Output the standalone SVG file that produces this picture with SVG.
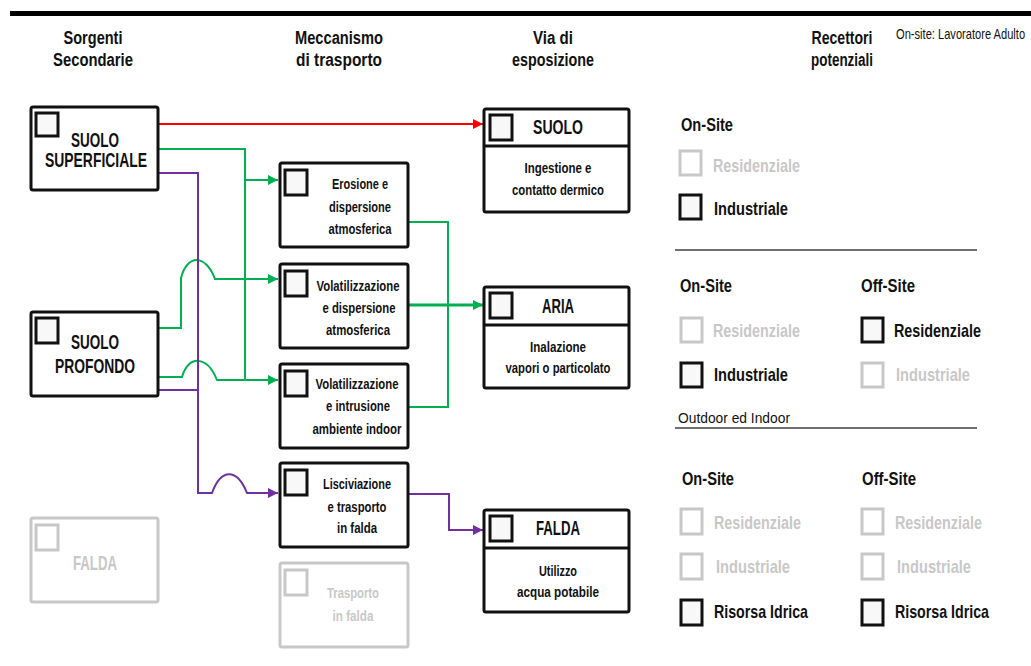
<svg xmlns="http://www.w3.org/2000/svg" width="1031" height="666" viewBox="0 0 1031 666">
<style>
text{font-family:"Liberation Sans",Arial,sans-serif;fill:#111}
.hdr{font-weight:bold;font-size:18px;text-anchor:middle}
.big{font-weight:bold;font-size:20px;text-anchor:middle}
.mech{font-weight:bold;font-size:15px;text-anchor:middle}
.expt{font-weight:bold;font-size:15px;text-anchor:middle}
.rh{font-weight:bold;font-size:18px}
.rt{font-weight:bold;font-size:19px}
.g{fill:#c8c8c8}
.box{fill:#fff;stroke:#111;stroke-width:3}
.gbox{fill:#fff;stroke:#c8c8c8;stroke-width:3}
.cb{fill:#f8f8f8;stroke:#111;stroke-width:3}
.gcb{fill:#fff;stroke:#c8c8c8;stroke-width:3}
.sep{stroke:#404040;stroke-width:1.5}
.red{fill:none;stroke:#ff0000;stroke-width:2}
.grn{fill:none;stroke:#00b050;stroke-width:2}
.grnT{fill:none;stroke:#00b050;stroke-width:3}
.pur{fill:none;stroke:#7030a0;stroke-width:2}
</style>
<defs>
<marker id="aR" markerUnits="userSpaceOnUse" markerWidth="12" markerHeight="12" refX="10" refY="5" orient="auto"><path d="M0,0 L10,5 L0,10 z" fill="#ff0000"/></marker>
<marker id="aG" markerUnits="userSpaceOnUse" markerWidth="12" markerHeight="12" refX="10" refY="5" orient="auto"><path d="M0,0 L10,5 L0,10 z" fill="#00b050"/></marker>
<marker id="aP" markerUnits="userSpaceOnUse" markerWidth="12" markerHeight="12" refX="10" refY="5" orient="auto"><path d="M0,0 L10,5 L0,10 z" fill="#7030a0"/></marker>
</defs>
<rect x="0" y="0" width="1031" height="666" fill="#fff"/>
<rect x="10" y="11" width="1021" height="5" fill="#000"/>

<g id="headers">
<text class="hdr" x="93" y="44" textLength="59" lengthAdjust="spacingAndGlyphs">Sorgenti</text>
<text class="hdr" x="93" y="66" textLength="80" lengthAdjust="spacingAndGlyphs">Secondarie</text>
<text class="hdr" x="339" y="44" textLength="88" lengthAdjust="spacingAndGlyphs">Meccanismo</text>
<text class="hdr" x="339" y="66" textLength="86" lengthAdjust="spacingAndGlyphs">di trasporto</text>
<text class="hdr" x="553" y="44" textLength="40" lengthAdjust="spacingAndGlyphs">Via di</text>
<text class="hdr" x="553" y="66" textLength="82" lengthAdjust="spacingAndGlyphs">esposizione</text>
<text class="hdr" x="842" y="44" textLength="61" lengthAdjust="spacingAndGlyphs">Recettori</text>
<text class="hdr" x="842" y="66" textLength="62" lengthAdjust="spacingAndGlyphs">potenziali</text>
<text transform="translate(896 39) scale(0.795 1)" x="0" y="0" style="font-size:14px">On-site: Lavoratore Adulto</text>
</g>

<g id="connectors">
<path class="red" d="M159,124 H483" marker-end="url(#aR)"/>
<path class="grn" d="M159,149 H245 V381"/>
<path class="grn" d="M245,180 H278" marker-end="url(#aG)"/>
<path class="grn" d="M159,328 H181 V278 C187,254 206,254 215,279 H278" marker-end="url(#aG)"/>
<path class="grn" d="M159,377 H182 C188,355 207,355 217,380 H278" marker-end="url(#aG)"/>
<path class="pur" d="M159,173 H198 V493 H212 C221,468 237,468 247,493 H278" marker-end="url(#aP)"/>
<path class="pur" d="M159,390 H198"/>
<path class="grn" d="M408,222 H448 V407 H408"/>
<path class="grnT" d="M408,305 H483" marker-end="url(#aG)"/>
<path class="pur" d="M408,494 H449 V530 H483" marker-end="url(#aP)"/>
</g>

<g id="src-suolo-superficiale">
<rect class="box" x="31" y="107" width="127" height="83" rx="2"/>
<rect class="cb" x="36" y="113" width="22" height="23"/>
<text class="big" x="95" y="147" textLength="48" lengthAdjust="spacingAndGlyphs">SUOLO</text>
<text class="big" x="96" y="167" textLength="102" lengthAdjust="spacingAndGlyphs">SUPERFICIALE</text>
</g>
<g id="src-suolo-profondo">
<rect class="box" x="31" y="312" width="127" height="84" rx="2"/>
<rect class="cb" x="36" y="318" width="22" height="25"/>
<text class="big" x="95" y="349" textLength="48" lengthAdjust="spacingAndGlyphs">SUOLO</text>
<text class="big" x="95" y="373" textLength="80" lengthAdjust="spacingAndGlyphs">PROFONDO</text>
</g>
<g id="src-falda">
<rect class="gbox" x="31" y="518" width="127" height="84" rx="2"/>
<rect class="gcb" x="36" y="525" width="22" height="25"/>
<text class="big g" x="95" y="570" textLength="44" lengthAdjust="spacingAndGlyphs">FALDA</text>
</g>

<g id="mec-erosione">
<rect class="box" x="280" y="163" width="128" height="84" rx="2"/>
<rect class="cb" x="285" y="170" width="22" height="25"/>
<text class="mech" x="360" y="189" textLength="56" lengthAdjust="spacingAndGlyphs">Erosione e</text>
<text class="mech" x="360" y="212" textLength="62" lengthAdjust="spacingAndGlyphs">dispersione</text>
<text class="mech" x="360" y="234" textLength="63" lengthAdjust="spacingAndGlyphs">atmosferica</text>
</g>
<g id="mec-volat-disp">
<rect class="box" x="280" y="264" width="128" height="84" rx="2"/>
<rect class="cb" x="285" y="271" width="22" height="25"/>
<text class="mech" x="358" y="291" textLength="83" lengthAdjust="spacingAndGlyphs">Volatilizzazione</text>
<text class="mech" x="359" y="313" textLength="73" lengthAdjust="spacingAndGlyphs">e dispersione</text>
<text class="mech" x="358" y="335" textLength="64" lengthAdjust="spacingAndGlyphs">atmosferica</text>
</g>
<g id="mec-volat-indoor">
<rect class="box" x="280" y="364" width="128" height="84" rx="2"/>
<rect class="cb" x="285" y="371" width="22" height="25"/>
<text class="mech" x="357" y="389" textLength="83" lengthAdjust="spacingAndGlyphs">Volatilizzazione</text>
<text class="mech" x="358" y="411" textLength="64" lengthAdjust="spacingAndGlyphs">e intrusione</text>
<text class="mech" x="357" y="434" textLength="89" lengthAdjust="spacingAndGlyphs">ambiente indoor</text>
</g>
<g id="mec-lisciviazione">
<rect class="box" x="280" y="463" width="128" height="84" rx="2"/>
<rect class="cb" x="285" y="470" width="22" height="25"/>
<text class="mech" x="357" y="489" textLength="68" lengthAdjust="spacingAndGlyphs">Lisciviazione</text>
<text class="mech" x="357" y="512" textLength="59" lengthAdjust="spacingAndGlyphs">e trasporto</text>
<text class="mech" x="357" y="533" textLength="40" lengthAdjust="spacingAndGlyphs">in falda</text>
</g>
<g id="mec-trasporto-falda">
<rect class="gbox" x="280" y="563" width="128" height="84" rx="2"/>
<rect class="gcb" x="285" y="570" width="22" height="25"/>
<text class="mech g" x="353" y="598" textLength="52" lengthAdjust="spacingAndGlyphs">Trasporto</text>
<text class="mech g" x="353" y="621" textLength="41" lengthAdjust="spacingAndGlyphs">in falda</text>
</g>

<g id="exp-suolo">
<rect class="box" x="484" y="109" width="145" height="103" rx="2"/>
<line x1="484" y1="146" x2="629" y2="146" stroke="#111" stroke-width="3"/>
<rect class="cb" x="490" y="115" width="22" height="25"/>
<text class="big" x="558" y="134" textLength="50" lengthAdjust="spacingAndGlyphs">SUOLO</text>
<text class="expt" x="558" y="173" textLength="67" lengthAdjust="spacingAndGlyphs">Ingestione e</text>
<text class="expt" x="558" y="195" textLength="92" lengthAdjust="spacingAndGlyphs">contatto dermico</text>
</g>
<g id="exp-aria">
<rect class="box" x="484" y="287" width="145" height="101" rx="2"/>
<line x1="484" y1="325" x2="629" y2="325" stroke="#111" stroke-width="3"/>
<rect class="cb" x="490" y="293" width="22" height="25"/>
<text class="big" x="558" y="313" textLength="32" lengthAdjust="spacingAndGlyphs">ARIA</text>
<text class="expt" x="558" y="352" textLength="56" lengthAdjust="spacingAndGlyphs">Inalazione</text>
<text class="expt" x="558" y="373" textLength="105" lengthAdjust="spacingAndGlyphs">vapori o particolato</text>
</g>
<g id="exp-falda">
<rect class="box" x="484" y="510" width="145" height="102" rx="2"/>
<line x1="484" y1="548" x2="629" y2="548" stroke="#111" stroke-width="3"/>
<rect class="cb" x="490" y="516" width="22" height="25"/>
<text class="big" x="558" y="535" textLength="44" lengthAdjust="spacingAndGlyphs">FALDA</text>
<text class="expt" x="558" y="576" textLength="38" lengthAdjust="spacingAndGlyphs">Utilizzo</text>
<text class="expt" x="558" y="597" textLength="82" lengthAdjust="spacingAndGlyphs">acqua potabile</text>
</g>

<g id="recettori-1">
<text class="rh" x="681" y="131" textLength="52" lengthAdjust="spacingAndGlyphs">On-Site</text>
<rect class="gcb" x="680" y="151" width="21" height="24"/>
<text class="rt g" x="713" y="172" textLength="87" lengthAdjust="spacingAndGlyphs">Residenziale</text>
<rect class="cb" x="680" y="195" width="21" height="24"/>
<text class="rt" x="714" y="215" textLength="74" lengthAdjust="spacingAndGlyphs">Industriale</text>
<line class="sep" x1="675" y1="250" x2="977" y2="250"/>
</g>
<g id="recettori-2">
<text class="rh" x="680" y="292" textLength="52" lengthAdjust="spacingAndGlyphs">On-Site</text>
<rect class="gcb" x="681" y="318" width="21" height="24"/>
<text class="rt g" x="713" y="337" textLength="87" lengthAdjust="spacingAndGlyphs">Residenziale</text>
<rect class="cb" x="681" y="363" width="21" height="24"/>
<text class="rt" x="714" y="381" textLength="74" lengthAdjust="spacingAndGlyphs">Industriale</text>
<text class="rh" x="861" y="292" textLength="54" lengthAdjust="spacingAndGlyphs">Off-Site</text>
<rect class="cb" x="862" y="318" width="21" height="24"/>
<text class="rt" x="894" y="337" textLength="87" lengthAdjust="spacingAndGlyphs">Residenziale</text>
<rect class="gcb" x="862" y="363" width="21" height="24"/>
<text class="rt g" x="896" y="381" textLength="74" lengthAdjust="spacingAndGlyphs">Industriale</text>
<text x="678" y="423" style="font-size:15px" textLength="112" lengthAdjust="spacingAndGlyphs">Outdoor ed Indoor</text>
<line class="sep" x1="675" y1="428" x2="977" y2="428"/>
</g>
<g id="recettori-3">
<text class="rh" x="682" y="485" textLength="52" lengthAdjust="spacingAndGlyphs">On-Site</text>
<rect class="gcb" x="681" y="509" width="21" height="25"/>
<text class="rt g" x="714" y="529" textLength="87" lengthAdjust="spacingAndGlyphs">Residenziale</text>
<rect class="gcb" x="681" y="554" width="21" height="25"/>
<text class="rt g" x="716" y="573" textLength="74" lengthAdjust="spacingAndGlyphs">Industriale</text>
<rect class="cb" x="681" y="600" width="21" height="25"/>
<text class="rt" x="714" y="618" textLength="94" lengthAdjust="spacingAndGlyphs">Risorsa Idrica</text>
<text class="rh" x="862" y="485" textLength="54" lengthAdjust="spacingAndGlyphs">Off-Site</text>
<rect class="gcb" x="862" y="509" width="21" height="25"/>
<text class="rt g" x="895" y="529" textLength="87" lengthAdjust="spacingAndGlyphs">Residenziale</text>
<rect class="gcb" x="862" y="554" width="21" height="25"/>
<text class="rt g" x="897" y="573" textLength="74" lengthAdjust="spacingAndGlyphs">Industriale</text>
<rect class="cb" x="862" y="600" width="21" height="25"/>
<text class="rt" x="895" y="618" textLength="94" lengthAdjust="spacingAndGlyphs">Risorsa Idrica</text>
</g>
</svg>
